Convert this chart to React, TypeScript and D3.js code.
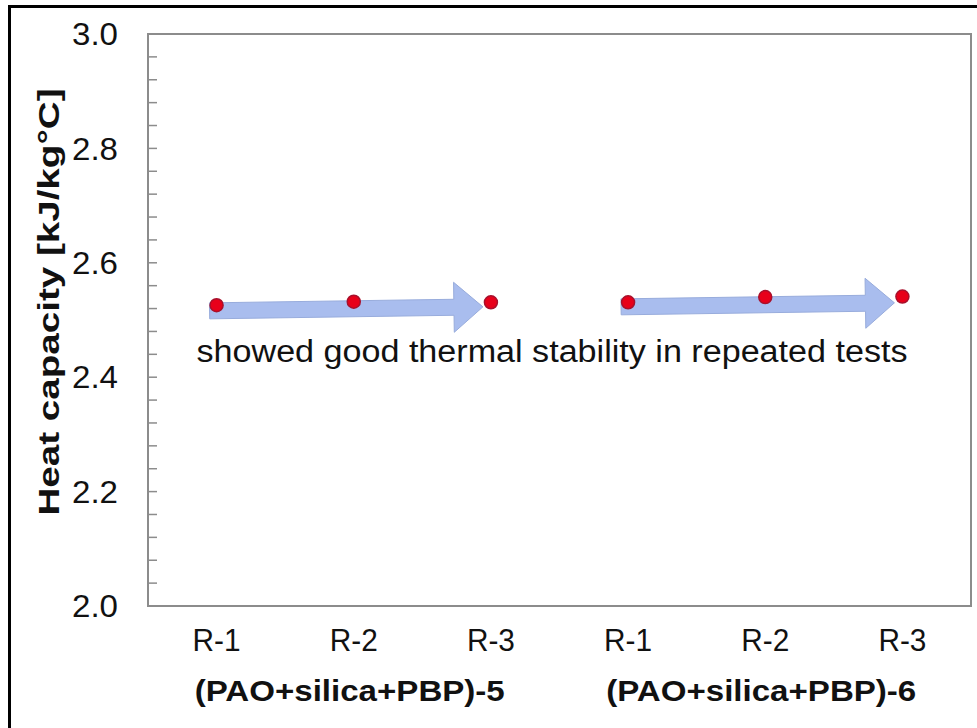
import React from "react";
import * as d3 from "d3";

const groups = ["(PAO+silica+PBP)-5", "(PAO+silica+PBP)-6"];
const runs = ["R-1", "R-2", "R-3"];
const values5 = [2.526, 2.532, 2.531];
const values6 = [2.531, 2.540, 2.541];
const yTicks = [2.0, 2.2, 2.4, 2.6, 2.8, 3.0];
const arrowStartValues = [2.516, 2.523];
const arrowEndValues = [2.523, 2.530];
const annotation = "showed good thermal stability in repeated tests";
const yLabel = "Heat capacity [kJ/kg°C]";

const W = 977;
const H = 728;
const M = { left: 148, right: 971, top: 34, bottom: 606 };

export default function App() {
  const keys: string[] = [];
  groups.forEach((g, gi) => runs.forEach((r) => keys.push(`${gi}|${r}`)));
  const x = d3.scaleBand<string>().domain(keys).range([M.left, M.right]);
  const cx = (k: string) => (x(k) as number) + x.bandwidth() / 2;
  const y = d3.scaleLinear().domain([2.0, 3.0]).range([M.bottom, M.top]);
  const minor = d3.range(0, 26).map((i) => 2.0 + i * 0.04);
  const seriesVals = [values5, values6];
  const points = groups.flatMap((g, gi) =>
    runs.map((r, ri) => ({ key: `${gi}|${r}`, v: seriesVals[gi][ri] }))
  );

  const arrowPath = (x0: number, y0: number, x1: number, y1: number) => {
    const dx = x1 - x0, dy = y1 - y0;
    const len = Math.hypot(dx, dy);
    const ux = dx / len, uy = dy / len;
    const nx = -uy, ny = ux;
    const sh = 8, hh = 25, hl = 29;
    const bx = x1 - ux * hl, by = y1 - uy * hl;
    const pts = [
      [x0 + nx * sh, y0 + ny * sh],
      [bx + nx * sh, by + ny * sh],
      [bx + nx * hh, by + ny * hh],
      [x1, y1],
      [bx - nx * hh, by - ny * hh],
      [bx - nx * sh, by - ny * sh],
      [x0 - nx * sh, y0 - ny * sh],
    ];
    return d3.line()(pts as [number, number][]) + "Z";
  };

  const font = "'Liberation Sans', Arial, sans-serif";

  return (
    <svg
      width={W}
      height={H}
      style={{ position: "absolute", left: 0, top: 0, background: "#fff" }}
      fontFamily={font}
    >
      <rect x={0} y={0} width={W} height={H} fill="#fff" />
      {/* outer frame */}
      <path d={`M9.5,${H} V6.5 H${W}`} fill="none" stroke="#000" strokeWidth={3} />
      {/* plot frame */}
      <rect
        x={M.left}
        y={M.top}
        width={M.right - M.left}
        height={M.bottom - M.top}
        fill="none"
        stroke="#8c8c8c"
        strokeWidth={2}
      />
      {/* minor ticks */}
      {minor.map((t, i) => (
        <line
          key={i}
          x1={M.left}
          x2={M.left + 9}
          y1={y(t)}
          y2={y(t)}
          stroke="#8c8c8c"
          strokeWidth={1.5}
        />
      ))}
      {/* y tick labels */}
      {yTicks.map((t) => (
        <text
          key={t}
          x={118}
          y={y(t)}
          dy="0.36em"
          textAnchor="end"
          fontSize={31}
          textLength={46}
          lengthAdjust="spacingAndGlyphs"
          fill="#111"
        >
          {t.toFixed(1)}
        </text>
      ))}
      {/* y label */}
      <text
        transform={`translate(59,${302}) rotate(-90)`}
        textAnchor="middle"
        fontSize={30}
        fontWeight="bold"
        textLength={427}
        lengthAdjust="spacingAndGlyphs"
        fill="#111"
      >
        {yLabel}
      </text>
      {/* arrows */}
      {groups.map((g, gi) => (
        <path
          key={g}
          d={arrowPath(
            cx(`${gi}|${runs[0]}`) - 7,
            y(arrowStartValues[gi]),
            cx(`${gi}|${runs[runs.length - 1]}`) - 8,
            y(arrowEndValues[gi])
          )}
          fill="#a9bdee"
          stroke="#98acdc"
          strokeWidth={1}
        />
      ))}
      {/* points */}
      {points.map((p) => (
        <circle
          key={p.key}
          cx={cx(p.key)}
          cy={y(p.v)}
          r={6.5}
          fill="#e8001a"
          stroke="#a8102c"
          strokeWidth={1.5}
        />
      ))}
      {/* annotation */}
      <text
        x={552}
        y={362}
        textAnchor="middle"
        fontSize={31}
        textLength={711}
        lengthAdjust="spacingAndGlyphs"
        fill="#111"
      >
        {annotation}
      </text>
      {/* x labels */}
      {keys.map((k) => (
        <text
          key={k}
          x={cx(k)}
          y={651}
          textAnchor="middle"
          fontSize={31}
          textLength={48}
          lengthAdjust="spacingAndGlyphs"
          fill="#111"
        >
          {k.split("|")[1]}
        </text>
      ))}
      {groups.map((g, gi) => (
        <text
          key={g}
          x={cx(`${gi}|${runs[1]}`) - 4}
          y={701}
          textAnchor="middle"
          fontSize={30}
          fontWeight="bold"
          textLength={310}
          lengthAdjust="spacingAndGlyphs"
          fill="#111"
        >
          {g}
        </text>
      ))}
    </svg>
  );
}
